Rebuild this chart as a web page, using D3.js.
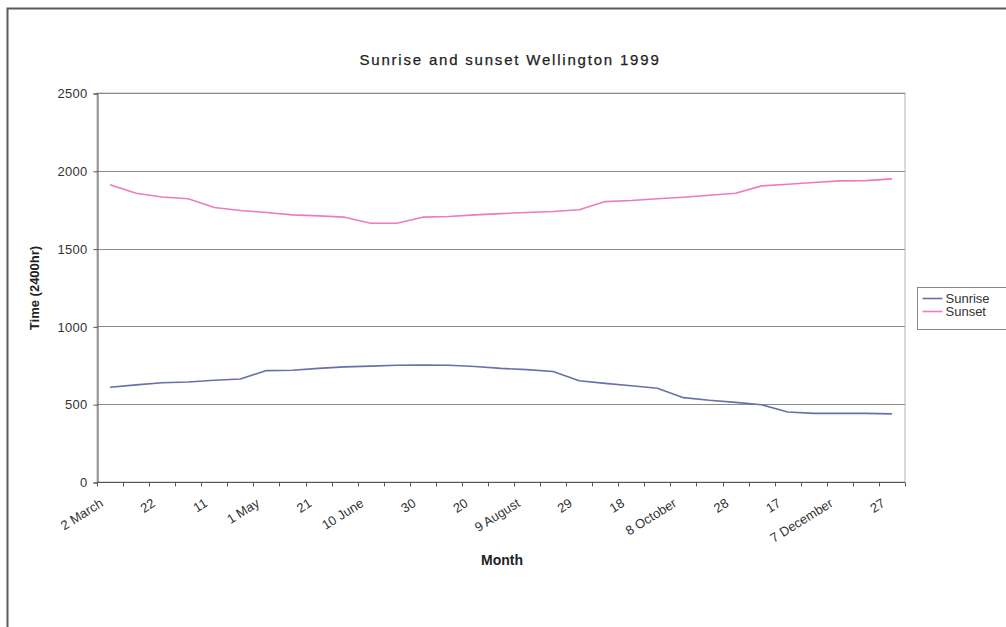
<!DOCTYPE html>
<html>
<head>
<meta charset="utf-8">
<script src="https://cdn.jsdelivr.net/npm/d3@7"></script>
<style>
  html, body { margin: 0; padding: 0; background: #fff; }
  svg { display: block; font-family: "Liberation Sans", Arial, sans-serif; }
</style>
</head>
<body>
<svg id="chart" width="1006" height="627"></svg>
<script>
// Readings every 10 days, 2 March to 27 December 1999
const dates = [
  "2 March", "12 March", "22 March", "1 April", "11 April", "21 April",
  "1 May", "11 May", "21 May", "31 May", "10 June", "20 June", "30 June",
  "10 July", "20 July", "30 July", "9 August", "19 August", "29 August",
  "8 September", "18 September", "28 September", "8 October", "18 October",
  "28 October", "7 November", "17 November", "27 November", "7 December",
  "17 December", "27 December"
];
// Label shown under every second tick
const tickLabels = [
  "2 March", "22", "11", "1 May", "21", "10 June", "30", "20", "9 August",
  "29", "18", "8 October", "28", "17", "7 December", "27"
];
const sunrise = [
  609, 624, 638, 643, 654, 662, 716, 718, 730, 740, 745, 750, 752, 750, 742, 730,
  722, 710, 651, 634, 619, 602, 542, 525, 512, 496, 450, 441, 441, 441, 438
];
const sunset = [
  1910, 1856, 1832, 1820, 1764, 1745, 1732, 1717, 1710, 1702, 1663, 1663, 1702,
  1706, 1717, 1725, 1732, 1738, 1750, 1802, 1809, 1820, 1830, 1843, 1856, 1903,
  1914, 1925, 1935, 1937, 1948
];
const yTicks = [0, 500, 1000, 1500, 2000, 2500];

const series = [
  { name: "Sunrise", values: sunrise, color: "#6870a8" },
  { name: "Sunset", values: sunset, color: "#ee7bbd" }
];

const svg = d3.select("#chart");
const plot = { left: 97, top: 93, right: 905, bottom: 482 };

// outer chart frame
svg.append("rect")
  .attr("x", 7.5).attr("y", 8.5)
  .attr("width", 1010).attr("height", 630)
  .attr("fill", "#fff").attr("stroke", "#5a5a5a").attr("stroke-width", 2);

const x = d3.scaleBand().domain(dates).range([plot.left, plot.right]);
const y = d3.scaleLinear().domain([0, 2500]).range([plot.bottom, plot.top]);

// plot border and horizontal gridlines
svg.append("rect")
  .attr("x", plot.left).attr("y", plot.top)
  .attr("width", plot.right - plot.left).attr("height", plot.bottom - plot.top)
  .attr("fill", "none").attr("stroke", "#b4b4b4").attr("stroke-width", 1);

svg.append("g")
  .selectAll("line")
  .data(yTicks.filter(d => d > 0))
  .join("line")
  .attr("x1", plot.left).attr("x2", plot.right)
  .attr("y1", d => Math.round(y(d)) + 0.5).attr("y2", d => Math.round(y(d)) + 0.5)
  .attr("stroke", "#8a8a8a").attr("stroke-width", 1);

// y axis
const yAxis = svg.append("g")
  .attr("transform", `translate(${plot.left + 0.5},0.5)`)
  .call(d3.axisLeft(y).tickValues(yTicks).tickSize(4).tickPadding(6).tickFormat(d3.format("d")));
yAxis.select(".domain").attr("stroke", "#555");
yAxis.selectAll(".tick line").attr("stroke", "#555");
yAxis.selectAll("text").attr("font-size", 13).attr("fill", "#333")
  .attr("letter-spacing", 0.3)
  .attr("font-family", "Liberation Sans, Arial, sans-serif");

// x axis: a tick at every category boundary, labels on every second category
const xAxis = svg.append("g")
  .attr("transform", `translate(0,${plot.bottom + 0.5})`);
xAxis.append("line")
  .attr("x1", plot.left).attr("x2", plot.right)
  .attr("stroke", "#555");
const bounds = dates.map(d => x(d)).concat([plot.right]);
xAxis.selectAll("line.tk")
  .data(bounds)
  .join("line")
  .attr("class", "tk")
  .attr("x1", d => Math.round(d) + 0.5).attr("x2", d => Math.round(d) + 0.5)
  .attr("y1", 0).attr("y2", 4)
  .attr("stroke", "#555");
xAxis.selectAll("text")
  .data(tickLabels)
  .join("text")
  .attr("transform", (d, i) => {
    const cx = x(dates[i * 2]) + x.bandwidth() / 2 - 6;
    return `translate(${cx},23) rotate(-32)`;
  })
  .attr("text-anchor", "end")
  .attr("font-size", 13)
  .attr("fill", "#333")
  .text(d => d);

// lines
const line = d3.line()
  .x((d, i) => x(dates[i]) + x.bandwidth() / 2)
  .y(d => y(d));

svg.append("g")
  .selectAll("path")
  .data(series)
  .join("path")
  .attr("d", d => line(d.values))
  .attr("fill", "none")
  .attr("stroke", d => d.color)
  .attr("stroke-width", 1.6)
  .attr("stroke-linejoin", "round");

// titles
svg.append("text")
  .attr("x", 510).attr("y", 65)
  .attr("text-anchor", "middle")
  .attr("font-size", 15)
  .attr("letter-spacing", 1.8)
  .attr("fill", "#1e1e1e")
  .attr("stroke", "#1e1e1e").attr("stroke-width", 0.25)
  .text("Sunrise and sunset Wellington 1999");

svg.append("text")
  .attr("x", 502).attr("y", 565)
  .attr("text-anchor", "middle")
  .attr("font-size", 14)
  .attr("font-weight", "bold")
  .attr("fill", "#222")
  .text("Month");

svg.append("text")
  .attr("transform", "translate(39,288) rotate(-90)")
  .attr("text-anchor", "middle")
  .attr("font-size", 13)
  .attr("font-weight", "bold")
  .attr("fill", "#222")
  .text("Time (2400hr)");

// legend
const legend = svg.append("g").attr("transform", "translate(917.5,287.5)");
legend.append("rect")
  .attr("width", 100).attr("height", 42)
  .attr("fill", "#fff").attr("stroke", "#888");
legend.selectAll("g.item")
  .data(series)
  .join("g")
  .attr("class", "item")
  .attr("transform", (d, i) => `translate(0,${11 + i * 13})`)
  .each(function(d) {
    const g = d3.select(this);
    g.append("line").attr("x1", 5).attr("x2", 25)
      .attr("stroke", d.color).attr("stroke-width", 1.6);
    g.append("text").attr("x", 28).attr("dy", "0.35em")
      .attr("font-size", 13).attr("fill", "#333").text(d.name);
  });
</script>
</body>
</html>
